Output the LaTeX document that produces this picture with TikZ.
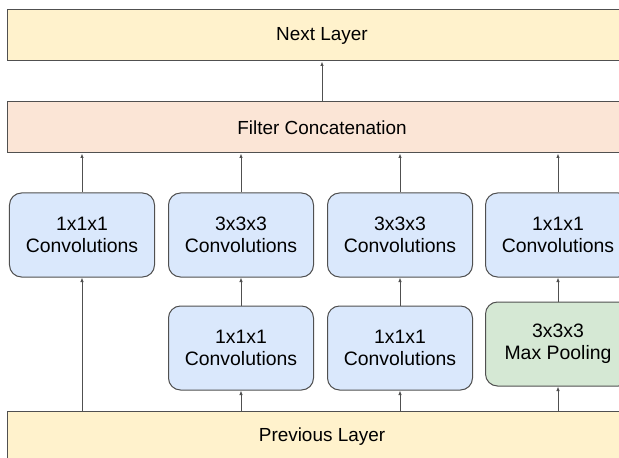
\documentclass[tikz,border=0pt]{standalone}
\usepackage{fontspec}
\setmainfont{Liberation Sans}
\usetikzlibrary{arrows.meta,positioning}
\definecolor{layerYellow}{RGB}{255,242,204}
\definecolor{concatPeach}{RGB}{251,229,214}
\definecolor{convBlue}{RGB}{218,232,252}
\definecolor{poolGreen}{RGB}{213,232,212}
\definecolor{edgeGray}{RGB}{80,80,80}
\tikzset{
  lyr/.style={draw=edgeGray,line width=1bp,minimum width=628bp,minimum height=51bp,
              font=\fontsize{19}{22}\selectfont,inner sep=0pt},
  conv/.style={draw=edgeGray,line width=1bp,rounded corners=12bp,fill=convBlue,
               minimum width=145bp,minimum height=84bp,align=center,
               font=\fontsize{19.5}{22}\selectfont,inner sep=0pt},
  arr/.style={-{Latex[length=4.5bp,width=3.5bp]},line width=0.9bp,edgeGray},
}
\begin{document}
\begin{tikzpicture}[x=1bp,y=-1bp]
  \useasboundingbox (0,0) rectangle (619,458);
  \node[lyr,fill=layerYellow] (nl) at (322,35.5)  {Next Layer};
  \node[lyr,fill=concatPeach] (fc) at (322,127.5) {Filter Concatenation};
  \node[lyr,fill=layerYellow] (pl) at (322,436.5) {Previous Layer};
  % upper row
  \node[conv] (a1) at (82,235)  {1x1x1\\Convolutions};
  \node[conv] (b1) at (241,235) {3x3x3\\Convolutions};
  \node[conv] (c1) at (400,235) {3x3x3\\Convolutions};
  \node[conv] (d1) at (558,235) {1x1x1\\Convolutions};
  % lower row
  \node[conv,below=28bp of b1] (b2) {1x1x1\\Convolutions};
  \node[conv,below=28bp of c1] (c2) {1x1x1\\Convolutions};
  \node[conv,fill=poolGreen,below=24bp of d1] (d2) {3x3x3\\Max Pooling};
  \draw[arr] (fc) -- (nl);
  \foreach \n in {a1,b1,c1,d1}
    \draw[arr] (\n.north) -- (\n.north |- fc.south);
  \draw[arr] (pl.north -| a1) -- (a1.south);
  \foreach \a/\b in {b2/b1,c2/c1,d2/d1}{
    \draw[arr] (pl.north -| \a) -- (\a.south);
    \draw[arr] (\a.north) -- (\b.south);
  }
\end{tikzpicture}
\end{document}
